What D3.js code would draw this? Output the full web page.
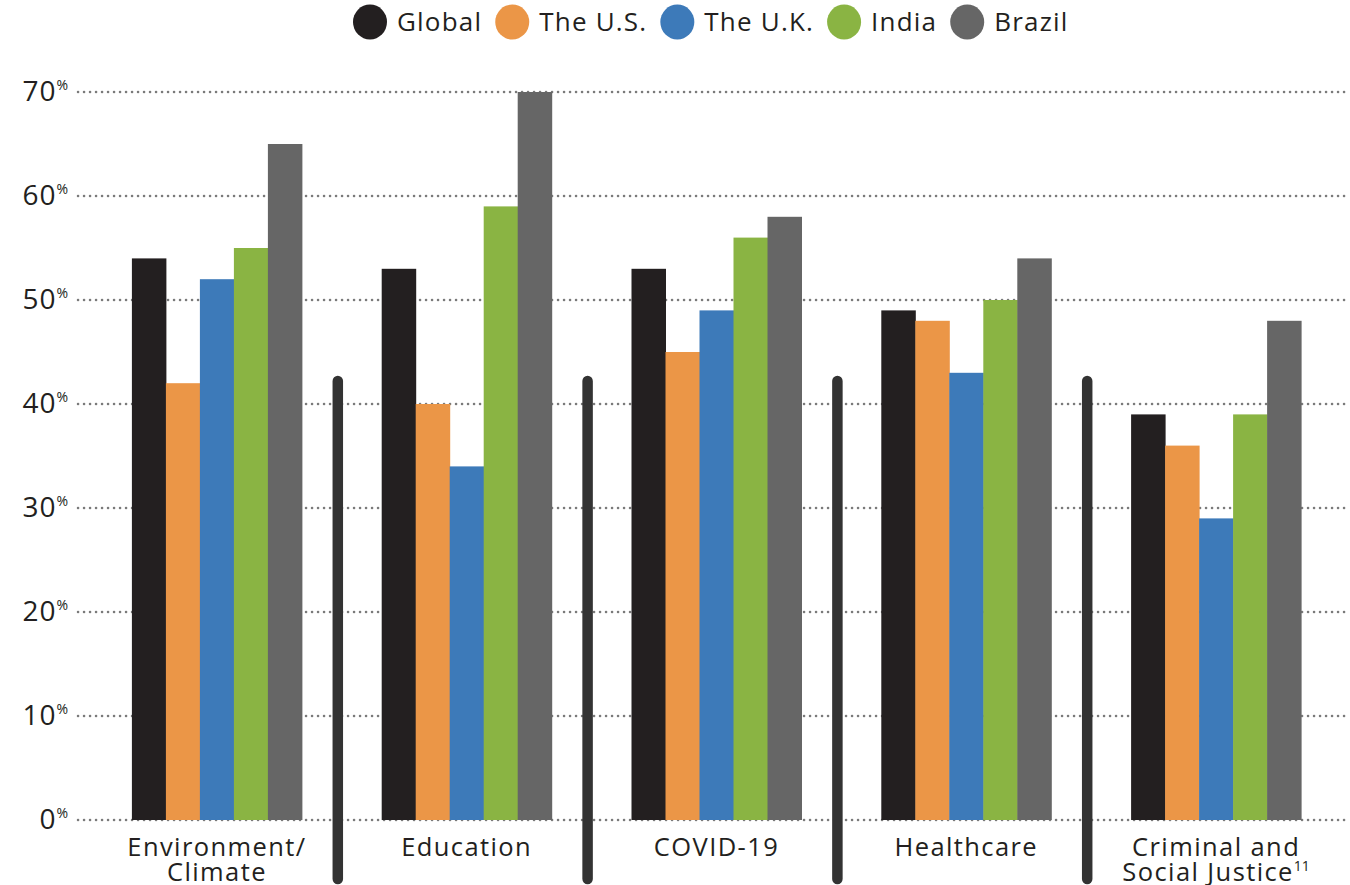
<!DOCTYPE html>
<html>
<head>
<meta charset="utf-8">
<script src="https://cdn.jsdelivr.net/npm/d3@7"></script>
<style>
  html, body { margin: 0; padding: 0; background: #fff; }
  svg { display: block; font-family: "Open Sans", "Noto Sans", sans-serif; }
</style>
</head>
<body>
<svg id="chart" width="1350" height="885"></svg>
<script>
// Share of respondents by issue and market
const categories = [["Environment/", "Climate"], ["Education"], ["COVID-19"], ["Healthcare"], ["Criminal and", "Social Justice"]];
const series = ["Global", "The U.S.", "The U.K.", "India", "Brazil"];
const colors = ["#231f20", "#eb9647", "#3d7ab9", "#8ab443", "#666666"];
const globalVals = [54, 53, 53, 49, 39];
const usVals = [42, 40, 45, 48, 36];
const ukVals = [52, 34, 49, 43, 29];
const indiaVals = [55, 59, 56, 50, 39];
const brazilVals = [65, 70, 58, 54, 48];
const yTicks = [0, 10, 20, 30, 40, 50, 60, 70];

const values = [globalVals, usVals, ukVals, indiaVals, brazilVals];
const catKeys = categories.map(c => c.join(" "));
const rows = catKeys.map((k, i) => ({ key: k, lines: categories[i], vals: values.map(v => v[i]) }));

const svg = d3.select("#chart");
const x0 = d3.scaleBand().domain(catKeys).range([88, 1337]);
const groupW = 170;
const x1 = d3.scaleBand().domain(series).range([0, groupW]);
const y = d3.scaleLinear().domain([0, 70]).range([820, 92]);
const groupLeft = k => x0(k) + (x0.bandwidth() - groupW) / 2 + 4;

// Dotted gridlines
svg.append("g").selectAll("line").data(yTicks).join("line")
  .attr("x1", 78).attr("x2", 1345)
  .attr("y1", d => y(d)).attr("y2", d => y(d))
  .attr("stroke", "#7a7a7a").attr("stroke-width", 2.5)
  .attr("stroke-dasharray", "0.1 5.9").attr("stroke-linecap", "round");

// Y tick labels with superscript percent sign
const yl = svg.append("g").selectAll("text").data(yTicks).join("text")
  .attr("x", 68).attr("y", d => y(d) + 9)
  .attr("text-anchor", "end").attr("fill", "#231f20")
  .attr("font-size", 28);
yl.append("tspan").text(d => d).attr("letter-spacing", 1);
yl.append("tspan").text("%").attr("font-size", 14).attr("dy", -11);

// Group separators
const seps = catKeys.slice(1);
svg.append("g").selectAll("line").data(seps).join("line")
  .attr("x1", d => x0(d)).attr("x2", d => x0(d))
  .attr("y1", 381).attr("y2", 879)
  .attr("stroke", "#333333").attr("stroke-width", 10.5).attr("stroke-linecap", "round");

// Bars
const g = svg.append("g").selectAll("g").data(rows).join("g")
  .attr("transform", d => `translate(${groupLeft(d.key)},0)`);
g.selectAll("rect").data(d => d.vals.map((v, i) => ({ s: series[i], v, c: colors[i] }))).join("rect")
  .attr("x", d => x1(d.s)).attr("width", x1.bandwidth() + 0.5)
  .attr("y", d => y(d.v)).attr("height", d => y(0) - y(d.v))
  .attr("fill", d => d.c);

// Category labels
const xl = svg.append("g").selectAll("text").data(rows).join("text")
  .attr("text-anchor", "middle").attr("fill", "#231f20").attr("font-size", 25.5)
  .attr("letter-spacing", 1.4)
  .attr("transform", d => `translate(${groupLeft(d.key) + groupW / 2},856)`);
xl.each(function(d) {
  const t = d3.select(this);
  d.lines.forEach((ln, i) => {
    const ts = t.append("tspan").attr("x", 0).attr("dy", i === 0 ? 0 : 25).text(ln);
    if (ln === "Social Justice") {
      ts.append("tspan").text("11").attr("font-size", 14).attr("dy", -10).attr("letter-spacing", 0);
    }
  });
});

// Legend
const legendItems = series.map((s, i) => ({ s, c: colors[i] }));
const lg = svg.append("g").attr("font-size", 26).attr("letter-spacing", 1.2);
let cx = 370;
legendItems.forEach(d => {
  lg.append("ellipse").attr("cx", cx).attr("cy", 22).attr("rx", 17).attr("ry", 17.5).attr("fill", d.c);
  const t = lg.append("text").attr("x", cx + 27).attr("y", 31).attr("fill", "#231f20").text(d.s);
  const w = t.node().getComputedTextLength();
  cx = cx + 27 + w + 30;
});
</script>
</body>
</html>
